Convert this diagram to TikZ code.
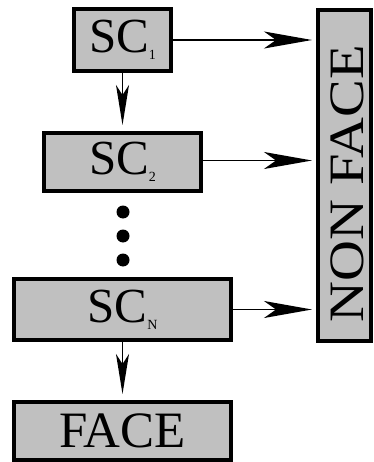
\documentclass[tikz,border=0pt]{standalone}
\usepackage{fontspec}
\setmainfont{Liberation Serif}
\usetikzlibrary{arrows.meta}
\definecolor{boxfill}{RGB}{192,192,192}
\newcommand{\stagesub}[1]{\raisebox{-7pt}{\fontsize{14}{14}\selectfont #1}}
\begin{document}
\begin{tikzpicture}[x=1pt,y=1pt,
  stage/.style={draw=black, line width=4pt, fill=boxfill, inner sep=0pt,
                font=\fontsize{49}{49}\selectfont},
  label/.style={inner sep=0pt, font=\fontsize{51}{51}\selectfont},
  flow/.style={line width=1.8pt, -{Stealth[length=40pt,width=13pt,inset=10pt]}, shorten >=6pt},
  reject/.style={line width=1.8pt, -{Stealth[length=48pt,width=17pt,inset=12pt]}, shorten >=4pt},
  dot/.style={circle, fill=black, inner sep=0pt, minimum size=13pt}]
\useasboundingbox (0,0) rectangle (373,-462);

% cascade of stage classifiers
\node[stage, minimum width=97pt, minimum height=62pt] (sc1) at (122.5,-40) {SC\stagesub{1}};
\node[stage, minimum width=157pt, minimum height=58pt] (sc2) at (122.5,-162) {SC\stagesub{2}};
\node[stage, minimum width=217pt, minimum height=61pt] (scn) at (122.5,-309.5) {SC\stagesub{N}};
\node[stage, minimum width=217pt, minimum height=58pt, font=\fontsize{51}{51}\selectfont] (face) at (122.5,-431) {FACE};

% rejection box
\node[stage, minimum width=53pt, minimum height=331pt] (nonface) at (344.5,-175.5) {};
\node[label, rotate=90] (nonfacetext) at (347.5,-183.5) {\scalebox{1.11}[0.97]{NON FACE}};

% ellipsis between stages
\node[dot] (d1) at (123,-212) {};
\node[dot] (d2) at (123,-236) {};
\node[dot] (d3) at (123,-260) {};

% accepted windows pass downwards
\draw[flow] (sc1) -- (sc2);
\draw[flow] (scn) -- (face);

% rejected windows go to the right
\draw[reject] (sc1.east) -- (sc1.east -| nonface.west);
\draw[reject] ([yshift=1.5pt]sc2.east) -- ([yshift=1.5pt]sc2.east -| nonface.west);
\draw[reject] (scn.east) -- (scn.east -| nonface.west);
\end{tikzpicture}
\end{document}
